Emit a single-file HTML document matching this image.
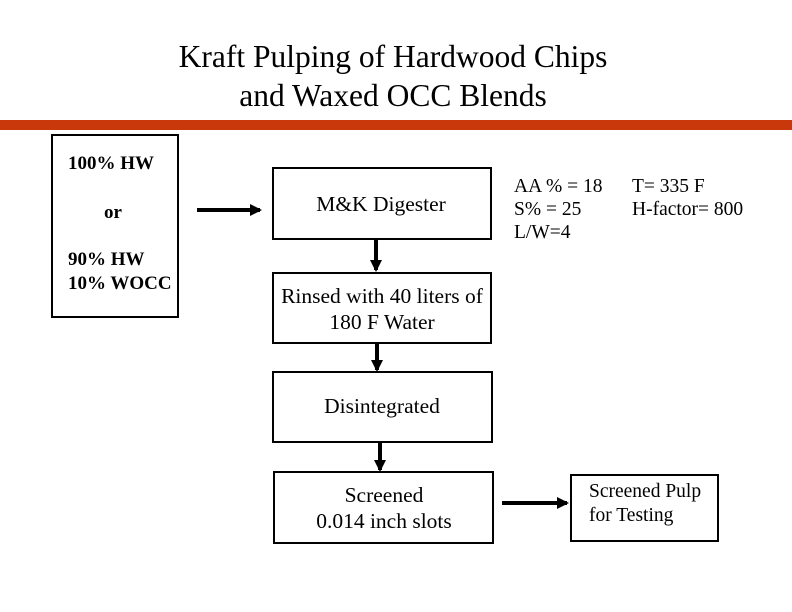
<!DOCTYPE html>
<html><head><style>
body{margin:0;background:#fff;}
svg{display:block;font-family:"Liberation Serif",serif;}
</style></head><body>
<svg width="792" height="612" viewBox="0 0 792 612">
<defs><marker id="a" markerWidth="3" markerHeight="3" refX="2.5" refY="1.5" orient="auto" markerUnits="strokeWidth"><path d="M0,0 L3,1.5 L0,3z" fill="#000"/></marker></defs>
<text x="393" y="67" font-size="31.5" text-anchor="middle">Kraft Pulping of Hardwood Chips</text>
<text x="393" y="106" font-size="31.5" text-anchor="middle">and Waxed OCC Blends</text>
<rect x="0" y="120" width="792" height="10" fill="#c8380a"/>
<g fill="none" stroke="#000" stroke-width="2">
<rect x="52" y="135" width="126" height="182"/>
<rect x="273" y="168" width="218" height="71"/>
<rect x="273" y="273" width="218" height="70"/>
<rect x="273" y="372" width="219" height="70"/>
<rect x="274" y="472" width="219" height="71"/>
<rect x="571" y="475" width="147" height="66"/>
</g>
<g stroke="#000" stroke-width="4" marker-end="url(#a)">
<line x1="197" y1="210" x2="260" y2="210"/>
<line x1="376" y1="240" x2="376" y2="270"/>
<line x1="377" y1="343" x2="377" y2="370"/>
<line x1="380" y1="443" x2="380" y2="470"/>
<line x1="502" y1="503" x2="567" y2="503"/>
</g>
<g font-size="19" font-weight="bold">
<text x="68" y="169">100% HW</text>
<text x="104" y="218">or</text>
<text x="68" y="265">90% HW</text>
<text x="68" y="289">10% WOCC</text>
</g>
<g font-size="21.5" text-anchor="middle">
<text x="381" y="211">M&amp;K Digester</text>
<text x="382" y="303">Rinsed with 40 liters of</text>
<text x="382" y="329">180 F Water</text>
<text x="382" y="413">Disintegrated</text>
<text x="384" y="502">Screened</text>
<text x="384" y="528">0.014 inch slots</text>
</g>
<g font-size="19.5">
<text x="589" y="497">Screened Pulp</text>
<text x="589" y="521">for Testing</text>
<text x="514" y="192">AA % = 18</text>
<text x="514" y="215">S% = 25</text>
<text x="514" y="238">L/W=4</text>
<text x="632" y="192">T= 335 F</text>
<text x="632" y="215">H-factor= 800</text>
</g>
</svg>
</body></html>
